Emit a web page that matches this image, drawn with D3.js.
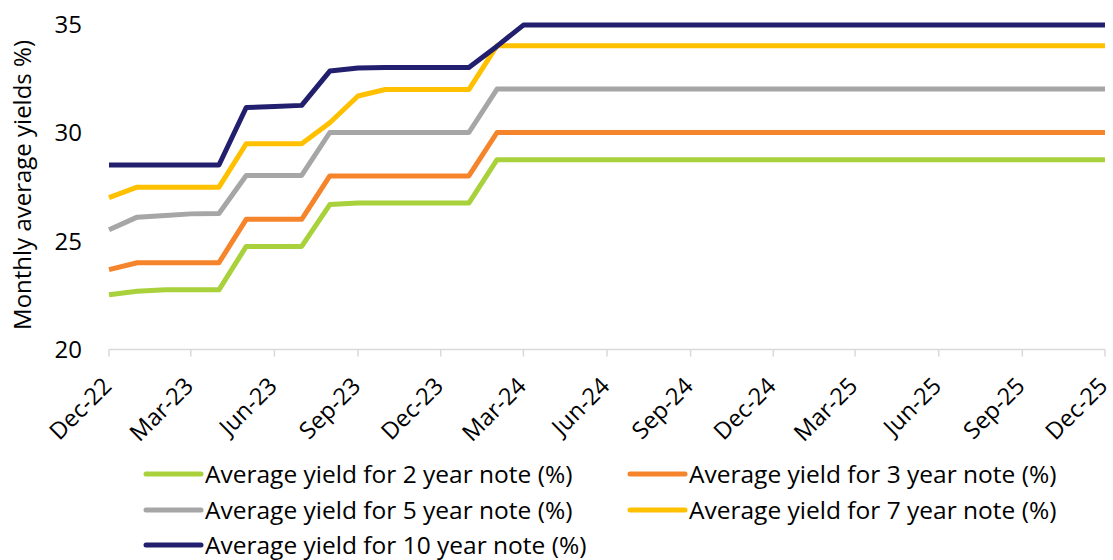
<!DOCTYPE html>
<head>
    <meta charset="utf-8">
    <script src="https://d3js.org/d3.v7.min.js"></script>
    <style>
        body { margin:0; background:#fff; }
        text { font-family: "Open Sans", "Liberation Sans", sans-serif; fill:#000; }
    </style>
</head>
<body>
    <svg id="chart" width="1113" height="560"></svg>

    <script>
        // monthly points Dec-22 .. Dec-25
        var months = d3.range(37).map(function(i) { return new Date(2022, 11 + i, 1); });
        var yTicks = [20, 25, 30, 35];

        var names = ["Average yield for 2 year note (%)", "Average yield for 3 year note (%)",
                     "Average yield for 5 year note (%)", "Average yield for 7 year note (%)",
                     "Average yield for 10 year note (%)"];
        var colors = ["#a9d13b", "#f5842a", "#a6a6a6", "#ffc000", "#22206e"];

        // values Dec-22 .. Feb-24, flat afterwards
        var y2  = [22.52, 22.68, 22.75, 22.75, 22.75, 24.75, 24.75, 24.75, 26.68, 26.75, 26.75, 26.75, 26.75, 26.75, 28.75];
        var y3  = [23.68, 24.0, 24.0, 24.0, 24.0, 26.0, 26.0, 26.0, 28.0, 28.0, 28.0, 28.0, 28.0, 28.0, 30.0];
        var y5  = [25.52, 26.1, 26.18, 26.25, 26.27, 28.02, 28.02, 28.02, 30.0, 30.0, 30.0, 30.0, 30.0, 30.0, 32.0];
        var y7  = [27.0, 27.48, 27.48, 27.48, 27.48, 29.48, 29.48, 29.48, 30.45, 31.68, 31.98, 31.98, 31.98, 31.98, 34.0];
        var y10 = [28.5, 28.5, 28.5, 28.5, 28.5, 31.15, 31.2, 31.25, 32.83, 32.97, 33.0, 33.0, 33.0, 33.0, 33.98];
        var tails = [28.75, 30.0, 32.0, 34.0, 34.95];

        function fill(arr, last) {
            var out = arr.slice();
            while (out.length < months.length) out.push(last);
            return out;
        }
        var series = [fill(y2, tails[0]), fill(y3, tails[1]), fill(y5, tails[2]), fill(y7, tails[3]), fill(y10, tails[4])];

        var svg = d3.select("#chart");
        var plotL = 109, plotR = 1105, plotT = 24, plotB = 349.5;

        var x = d3.scaleTime().domain([months[0], months[36]]).range([plotL, plotR]);
        var y = d3.scaleLinear().domain([20, 35]).range([plotB, plotT]);

        // x axis
        var xTicks = months.filter(function(d, i) { return i % 3 === 0; });
        svg.append("line")
            .attr("x1", plotL).attr("x2", plotR)
            .attr("y1", plotB).attr("y2", plotB)
            .attr("stroke", "#d9d9d9").attr("stroke-width", 1.5);
        svg.selectAll(".xtick").data(xTicks).enter().append("line")
            .attr("x1", function(d) { return x(d); }).attr("x2", function(d) { return x(d); })
            .attr("y1", plotB).attr("y2", plotB + 7)
            .attr("stroke", "#d9d9d9").attr("stroke-width", 1.5);
        var fmt = d3.timeFormat("%b-%y");
        svg.selectAll(".xlab").data(xTicks).enter().append("text")
            .attr("transform", function(d) { return "translate(" + (x(d) + 4) + "," + (plotB + 38) + ") rotate(-45)"; })
            .attr("text-anchor", "end")
            .style("font-size", "23.5px")
            .text(function(d) { return fmt(d); });

        // y labels
        svg.selectAll(".ylab").data(yTicks).enter().append("text")
            .attr("x", 82).attr("y", function(d) { return y(d); })
            .attr("dy", "0.36em")
            .attr("text-anchor", "end")
            .style("font-size", "24px")
            .text(function(d) { return d; });

        svg.append("text")
            .attr("transform", "translate(31,185) rotate(-90)")
            .attr("text-anchor", "middle")
            .style("font-size", "24px")
            .text("Monthly average yields %)");

        // lines
        var line = d3.line()
            .x(function(d, i) { return x(months[i]); })
            .y(function(d) { return y(d); });

        svg.selectAll(".series").data(series).enter().append("path")
            .attr("d", line)
            .attr("fill", "none")
            .attr("stroke", function(d, i) { return colors[i]; })
            .attr("stroke-width", 5)
            .attr("stroke-linejoin", "round");

        // legend
        var legendPos = [[146, 474], [630, 474], [146, 510], [630, 510], [146, 545]];
        var lg = svg.selectAll(".legend").data(names).enter().append("g")
            .attr("transform", function(d, i) { return "translate(" + legendPos[i][0] + "," + legendPos[i][1] + ")"; });
        lg.append("line")
            .attr("x1", 0).attr("x2", 55).attr("y1", 0).attr("y2", 0)
            .attr("stroke", function(d, i) { return colors[i]; })
            .attr("stroke-width", 5).attr("stroke-linecap", "round");
        lg.append("text")
            .attr("x", 59).attr("dy", "0.36em")
            .style("font-size", "24.5px")
            .text(function(d) { return d; });
    </script>
</body>
